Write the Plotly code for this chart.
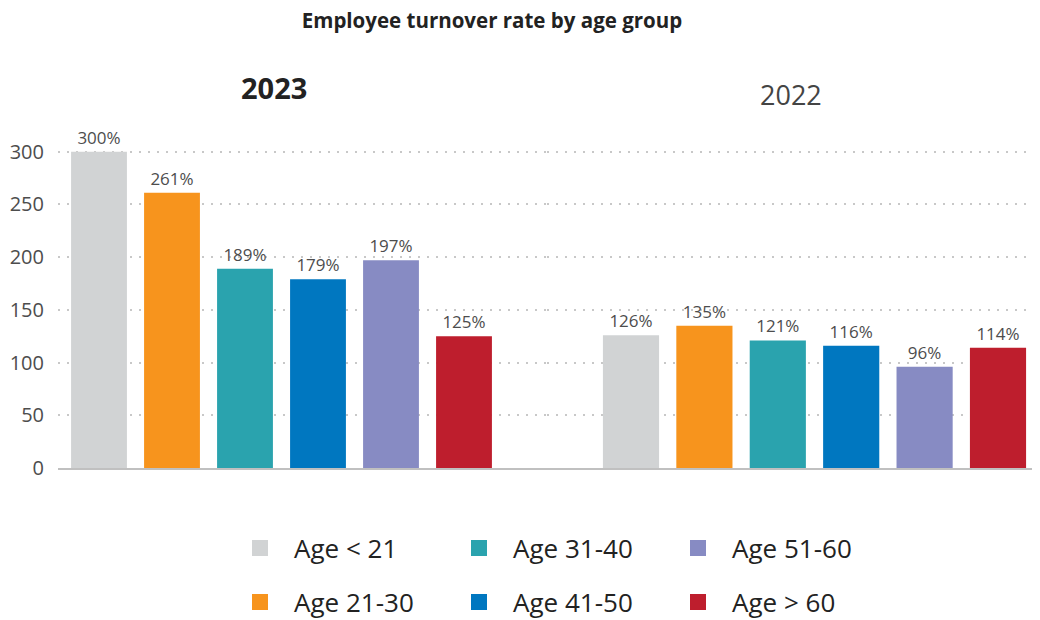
import plotly.graph_objects as go

age_groups = ["Age < 21", "Age 21-30", "Age 31-40", "Age 41-50", "Age 51-60", "Age > 60"]
values_2023 = [300, 261, 189, 179, 197, 125]
values_2022 = [126, 135, 121, 116, 96, 114]
colors = ["#d1d3d4", "#f7941d", "#2aa3ae", "#0077c0", "#878bc3", "#be1e2d"]
years = ["2023", "2022"]
y_ticks = [0, 50, 100, 150, 200, 250, 300]

FONT = "Open Sans"
TXT = "#4d4d4d"

# page body has an 8px margin: the figure is drawn at (8, 8) in the window
OFF = 8
W, H = 1040 - OFF, 620 - OFF
# window-pixel layout targets
PL, PR, PT, PB = 58, 1040, 120, 468
L, R, T, B = PL - OFF, 1040 - PR, PT - OFF, 620 - PB


def px_x(p):  # window px -> paper x
    return (p - PL) / (PR - PL)


def px_y(p):  # window px -> paper y
    return (PB - p) / (PB - PT)


def cx(p):  # window px -> container x
    return (p - OFF) / W


def cy(p):  # window px -> container y
    return 1 - (p - OFF) / H


fig = go.Figure()

for vals, xa, ya in [(values_2023, "x", "y"), (values_2022, "x2", "y2")]:
    fig.add_trace(go.Bar(
        x=age_groups, y=vals, marker_color=colors, marker_line_width=0,
        width=0.765, texttemplate="%{y}%", textposition="outside",
        textfont=dict(family=FONT, size=17, color=TXT), cliponaxis=False,
        showlegend=False, xaxis=xa, yaxis=ya, hoverinfo="x+y",
    ))

row1 = [0, 2, 4]
for i in range(6):
    fig.add_trace(go.Scatter(
        x=[None], y=[None], mode="markers", name=age_groups[i],
        marker=dict(symbol="square", size=20, color=colors[i]),
        legend="legend" if i in row1 else "legend2",
        xaxis="x", yaxis="y",
    ))

split = 547
grid = dict(showgrid=True, gridcolor="#c8c8c8", griddash="2px,7px", gridwidth=1.5)

leg_common = dict(orientation="h", xref="container", yref="container", xanchor="left", yanchor="middle",
                  font=dict(family=FONT, size=26, color="#222222"), itemwidth=58,
                  entrywidth=146, entrywidthmode="pixels", bgcolor="rgba(0,0,0,0)")

fig.update_layout(
    width=W, height=H,
    margin=dict(l=L, r=R, t=T, b=B, autoexpand=False),
    paper_bgcolor="white", plot_bgcolor="white",
    font=dict(family=FONT, color=TXT),
    barmode="overlay",
    title=dict(text="<b>Employee turnover rate by age group</b>", x=cx(492), xanchor="center",
               xref="container", yref="container",
               y=cy(21), yanchor="middle", font=dict(family=FONT, size=20.5, color="#222222")),
    xaxis=dict(domain=[0, px_x(split)], type="category", range=[-(99 - PL) / 73, (split - 99) / 73],
               showticklabels=False, showline=True, linecolor="#c0c0c0", linewidth=2,
               ticks="", showgrid=False, fixedrange=True, automargin=False),
    xaxis2=dict(domain=[px_x(split), 1], type="category", range=[-(631 - split) / 73.4, (PR - 631) / 73.4],
                showticklabels=False, showline=True, linecolor="#c0c0c0", linewidth=2,
                ticks="", showgrid=False, fixedrange=True, anchor="y2", automargin=False),
    yaxis=dict(range=[0, 330], tickvals=y_ticks, zeroline=False, ticks="", automargin=False,
               tickfont=dict(family=FONT, size=20, color=TXT), ticklabelstandoff=13, **grid),
    yaxis2=dict(range=[0, 330], tickvals=y_ticks, zeroline=False, ticks="", matches="y",
                showticklabels=False, anchor="x2", automargin=False, **grid),
    legend=dict(x=cx(226), y=cy(548), **leg_common),
    legend2=dict(x=cx(226), y=cy(602), **leg_common),
    annotations=[
        dict(text="<b>" + years[0] + "</b>", xref="paper", yref="paper", x=px_x(274), y=px_y(87),
             xanchor="center", yanchor="middle", showarrow=False,
             font=dict(family=FONT, size=29, color="#222222")),
        dict(text=years[1], xref="paper", yref="paper", x=px_x(791), y=px_y(95),
             xanchor="center", yanchor="middle", showarrow=False,
             font=dict(family=FONT, size=27, color="#444444")),
    ],
)

fig.write_html("out.html")
